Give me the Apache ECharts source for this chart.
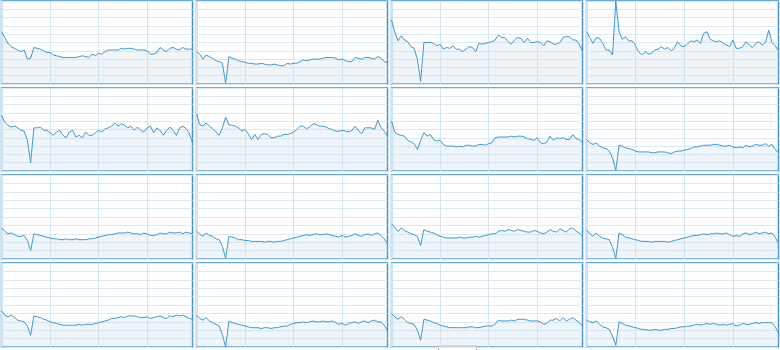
<!DOCTYPE html>
<html>
<head>
<meta charset="utf-8">
<script src="https://cdn.jsdelivr.net/npm/echarts@6/dist/echarts.min.js"></script>
<style>
html,body{margin:0;padding:0;background:#fff;}
#main{width:780px;height:350px;}
</style>
</head>
<body>
<div id="main"></div>
<script>
var categories = ['1','2','3','4','5','6','7','8','9','10','11','12','13','14','15','16','17','18','19','20',
'21','22','23','24','25','26','27','28','29','30','31','32','33','34','35','36','37','38','39','40',
'41','42','43','44','45','46','47','48','49','50','51','52','53','54','55','56','57','58','59','60'];

var yTicks = [0,10,20,30,40,50,60,70,80,90,100];

var s11 = [63,56,49,45,43,41,39,41,30,31,44,43,42,40,38,38,35,34,33,32,32,32,32,32,33,34,33,32,36,34,37,36,39,41,41,41,41,43,42,43,43,42,41,41,41,40,36,36,38,44,41,39,43,44,42,41,44,42,42,42];
var s12 = [39,36,30,35,33,31,28,27,25,1,33,31,30,28,27,26,25,25,24,24,25,24,23,23,24,23,22,22,25,24,25,25,27,29,28,29,30,30,30,31,32,32,32,31,29,30,28,27,27,32,31,30,32,32,31,30,33,31,27,26];
var s13 = [77,63,52,58,53,51,45,43,30,3,50,50,50,49,46,48,42,44,43,46,42,42,39,42,45,44,39,49,48,49,50,51,53,59,56,56,51,48,53,56,55,50,55,50,50,51,50,46,52,51,48,48,50,56,57,57,53,53,48,39];
var s14 = [63,56,49,56,55,49,41,41,35,100,63,54,57,52,52,47,39,35,39,36,37,41,42,45,42,44,40,43,51,46,45,48,52,51,53,49,61,63,54,52,51,52,49,47,45,53,43,43,45,51,47,44,49,51,47,50,65,50,46,40];
var s21 = [67,59,55,53,54,52,49,48,37,10,52,52,53,49,49,46,43,47,49,43,40,47,49,41,43,40,47,43,43,46,49,47,51,52,54,58,54,57,55,52,54,49,53,49,47,52,54,46,52,49,43,49,53,49,43,52,54,51,46,34];
var s22 = [69,56,54,58,54,51,47,43,52,65,56,55,54,52,48,50,45,38,44,38,44,45,44,40,40,42,42,44,44,45,47,50,54,54,51,53,57,56,54,54,53,51,50,48,48,49,48,47,49,54,49,45,52,52,52,50,61,52,48,42];
var s23 = [60,47,44,43,42,37,35,33,26,37,46,42,44,38,36,37,32,30,30,30,29,30,29,31,31,30,30,32,32,31,33,34,40,41,41,41,41,42,41,42,42,41,39,38,37,40,34,33,35,42,37,40,39,40,38,38,44,39,38,34];
var s24 = [38,34,32,34,30,28,27,24,16,1,31,30,28,27,26,24,23,23,23,23,22,22,23,23,23,22,21,23,24,24,25,26,27,29,29,30,31,31,31,32,32,31,30,30,31,29,28,29,28,31,29,30,32,31,31,33,30,32,26,22];
var s31 = [37,33,30,31,29,27,27,28,22,10,30,29,28,27,26,25,24,24,23,23,24,23,23,24,23,23,23,24,24,25,26,27,28,29,29,30,31,31,31,32,31,30,30,29,31,30,28,28,29,31,30,30,32,31,31,32,30,32,31,30];
var s32 = [33,30,27,31,28,27,24,23,15,1,27,26,25,23,23,22,22,21,21,21,21,20,21,21,20,21,21,22,23,24,25,26,27,28,29,28,29,30,29,29,30,29,28,27,26,28,26,27,28,30,28,27,29,30,28,30,31,28,24,18];
var s33 = [42,38,33,37,34,32,30,29,27,16,35,33,32,31,29,27,26,25,25,25,25,26,25,25,26,26,27,26,27,28,29,30,30,33,34,33,35,34,33,35,34,33,32,32,34,33,31,30,32,35,33,32,36,34,32,36,37,33,31,27];
var s34 = [35,30,27,31,27,25,24,23,14,1,31,29,26,25,24,23,22,21,21,21,20,21,21,21,21,20,21,22,23,24,25,26,27,28,28,29,30,29,30,30,31,30,30,31,29,27,28,27,30,31,29,30,32,30,31,32,30,31,26,18];
var s41 = [43,38,36,38,35,32,31,30,25,14,37,36,35,33,32,30,29,28,27,26,26,26,26,26,27,26,27,27,27,28,29,30,31,32,34,34,35,36,35,37,37,37,36,35,35,36,34,35,36,37,35,34,37,36,38,37,38,36,34,33];
var s42 = [38,34,32,35,31,29,27,25,15,0,31,29,28,27,26,25,24,23,23,23,22,23,23,22,23,23,24,25,25,27,28,29,29,30,29,30,31,30,30,31,30,30,31,29,27,28,26,28,29,30,28,30,31,29,31,32,30,30,26,19];
var s43 = [40,36,33,36,33,29,28,27,20,8,33,32,31,29,28,26,25,24,23,23,23,23,23,23,24,24,23,23,24,25,25,25,27,32,31,31,31,32,31,33,33,33,32,31,31,31,30,27,28,32,32,34,31,35,31,33,35,32,29,25];
var s44 = [32,30,29,31,27,24,23,21,13,2,30,28,26,25,24,23,22,21,21,20,20,21,20,20,21,21,22,22,23,24,24,25,25,26,27,26,27,28,27,28,27,26,27,26,27,28,25,26,28,27,27,28,29,28,29,29,29,29,24,17];

var seriesData = [s11,s12,s13,s14,s21,s22,s23,s24,s31,s32,s33,s34,s41,s42,s43,s44];

var lefts = [1.5, 196.5, 391.5, 586.5];
var tops = [1, 88, 175, 263];

var grids = [], xAxes = [], yAxes = [], series = [];
for (var k = 0; k < 16; k++) {
  var r = Math.floor(k / 4), c = k % 4;
  grids.push({
    left: lefts[c], top: tops[r], width: c === 3 ? 192 : 191, height: r < 2 ? 83 : 84,
    show: true, borderColor: '#3d8fcb', borderWidth: 1.5, backgroundColor: 'transparent',
    containLabel: false
  });
  xAxes.push({
    type: 'category', gridIndex: k, data: categories, boundaryGap: false,
    axisLine: {show: false}, axisTick: {show: false}, axisLabel: {show: false},
    splitLine: {show: true, interval: 14, lineStyle: {color: '#d3e5f2', width: 1}}
  });
  yAxes.push({
    type: 'value', gridIndex: k, min: yTicks[0], max: yTicks[yTicks.length - 1], interval: 10,
    axisLine: {show: false}, axisTick: {show: false}, axisLabel: {show: false},
    splitLine: {show: true, lineStyle: {color: '#d9e8f4', width: 1}}
  });
  series.push({
    type: 'line', xAxisIndex: k, yAxisIndex: k, data: seriesData[k],
    symbol: 'none', silent: true, animation: false,
    lineStyle: {color: '#3f97cf', width: 1},
    areaStyle: {color: 'rgba(200,218,234,0.38)'}
  });
}

var chart = echarts.init(document.getElementById('main'), null, {renderer: 'canvas'});
chart.setOption({
  animation: false,
  grid: grids,
  xAxis: xAxes,
  yAxis: yAxes,
  series: series,
  graphic: [{
    type: 'rect', left: 438, top: 345.5,
    shape: {width: 38, height: 10},
    style: {fill: '#fff', stroke: '#aaaaaa', lineWidth: 1}
  }]
});
</script>
</body>
</html>
